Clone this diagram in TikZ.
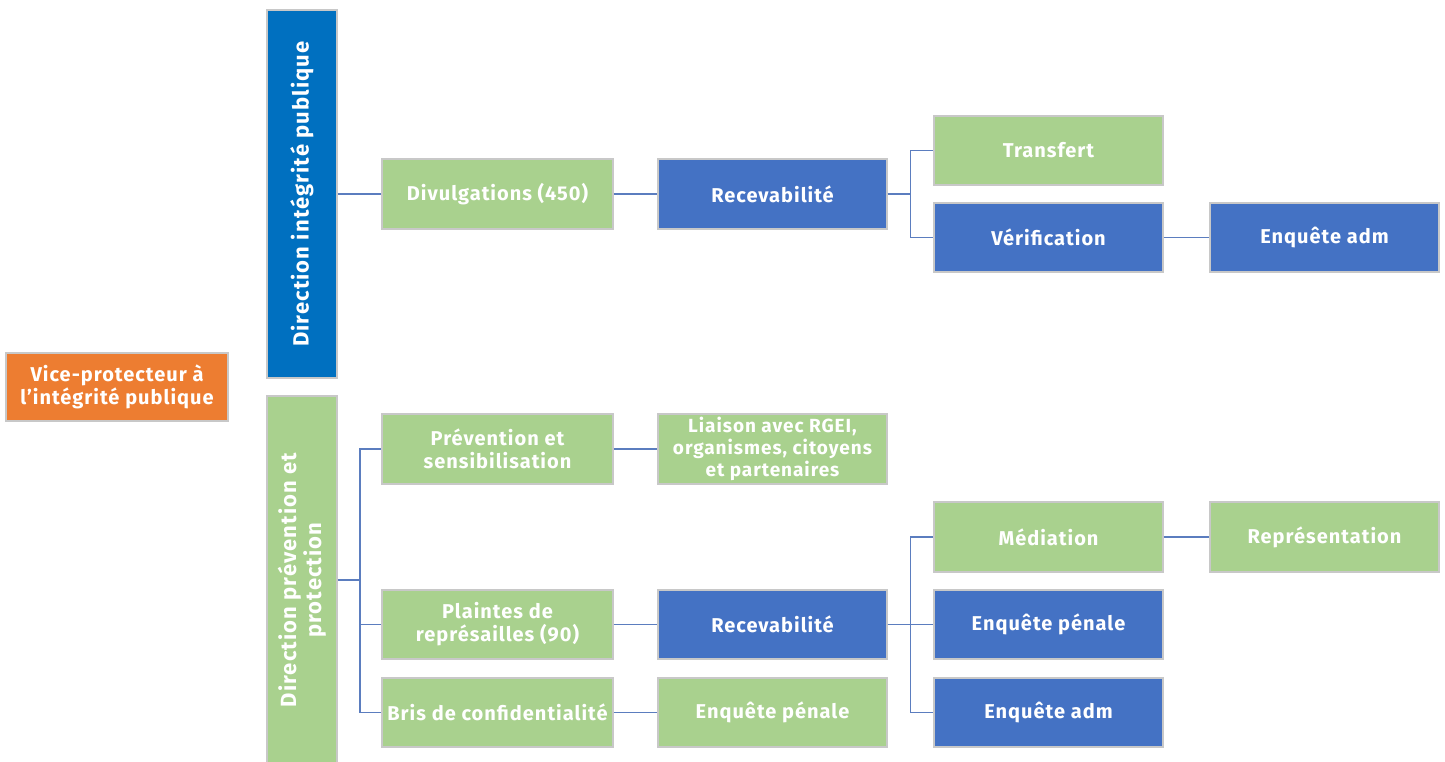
\documentclass[tikz,border=0pt]{standalone}
\usepackage{fontspec}
\setmainfont[LetterSpace=5]{Fira Sans}
\definecolor{cgreen}{HTML}{A9D18E}
\definecolor{cblue}{HTML}{4472C4}
\definecolor{cdblue}{HTML}{0070C0}
\definecolor{corange}{HTML}{ED7D31}
\definecolor{cedge}{HTML}{C8C8C8}
\definecolor{cline}{HTML}{5B7DBF}
\begin{document}
\begin{tikzpicture}[x=1pt,y=-1pt,
  box/.style={draw=cedge,line width=1.2pt,text=white,align=center,inner sep=0pt,
     font=\fontsize{20}{23}\selectfont\bfseries},
  gbox/.style={box,fill=cgreen},
  bbox/.style={box,fill=cblue},
  vtext/.style={text=white,rotate=90,align=center,font=\fontsize{22}{25}\selectfont\bfseries},
  conn/.style={draw=cline,line width=1.4pt}]
\useasboundingbox (0,0) rectangle (1445,761);
% nodes
\node[box,fill=corange,minimum width=222,minimum height=68] (vp) at (117,387) {Vice-protecteur à\\l’intégrité publique};
\node[box,fill=cdblue,minimum width=70,minimum height=368] (dip) at (302,194) {};
\node[vtext] (dipt) at (dip.center) {Direction intégrité publique};
\node[box,fill=cgreen,minimum width=70,minimum height=372] (dpp) at (302,582) {};
\node[vtext] (dppt) at (302,580) {Direction prévention et\\protection};
\node[gbox,minimum width=231,minimum height=70] (div) at (497.5,194) {Divulgations (450)};
\node[bbox,minimum width=229,minimum height=70] (rec1) at (772.5,194) {Recevabilité};
\node[gbox,minimum width=229,minimum height=69] (tra) at (1048.5,150.5) {Transfert};
\node[bbox,minimum width=229,minimum height=69] (ver) at (1048.5,237.5) {Vérification};
\node[bbox,minimum width=229,minimum height=69] (ea1) at (1324.5,237.5) {Enquête adm};
\node[gbox,minimum width=231,minimum height=70] (pre) at (497.5,449) {Prévention et\\sensibilisation};
\node[gbox,minimum width=229,minimum height=70,font=\fontsize{19}{22}\selectfont\bfseries] (lia) at (772.5,449) {Liaison avec RGEI,\\organismes, citoyens\\et partenaires};
\node[gbox,minimum width=231,minimum height=69] (pla) at (497.5,624.5) {Plaintes de\\représailles (90)};
\node[bbox,minimum width=229,minimum height=69] (rec2) at (772.5,624.5) {Recevabilité};
\node[gbox,minimum width=231,minimum height=69] (bri) at (497.5,712.5) {Bris de confidentialité};
\node[gbox,minimum width=229,minimum height=69] (ep1) at (772.5,712.5) {Enquête pénale};
\node[gbox,minimum width=229,minimum height=70] (med) at (1048.5,537) {Médiation};
\node[bbox,minimum width=229,minimum height=69] (ep2) at (1048.5,624.5) {Enquête pénale};
\node[bbox,minimum width=229,minimum height=69] (ea2) at (1048.5,712.5) {Enquête adm};
\node[gbox,minimum width=229,minimum height=70] (rep) at (1324.5,537) {Représentation};
% connectors
\draw[conn] (dip.east |- div.west) -- (div.west);
\draw[conn] (div.east) -- (rec1.west);
\draw[conn] (rec1.east) -- ++(23,0) |- (tra.west);
\draw[conn] (rec1.east) -- ++(23,0) |- (ver.west);
\draw[conn] (ver.east) -- (ea1.west);
\coordinate (j1) at (360,580);
\draw[conn] (dpp.east |- j1) -- (j1) |- (pre.west);
\draw[conn] (j1) |- (pla.west);
\draw[conn] (j1) |- (bri.west);
\draw[conn] (pre.east) -- (lia.west);
\draw[conn] (pla.east) -- (rec2.west);
\draw[conn] (bri.east) -- (ep1.west);
\draw[conn] (rec2.east) -- ++(23,0) |- (med.west);
\draw[conn] (rec2.east) -- ++(23,0) |- (ep2.west);
\draw[conn] (rec2.east) -- ++(23,0) |- (ea2.west);
\draw[conn] (med.east) -- (rep.west);
\end{tikzpicture}
\end{document}
